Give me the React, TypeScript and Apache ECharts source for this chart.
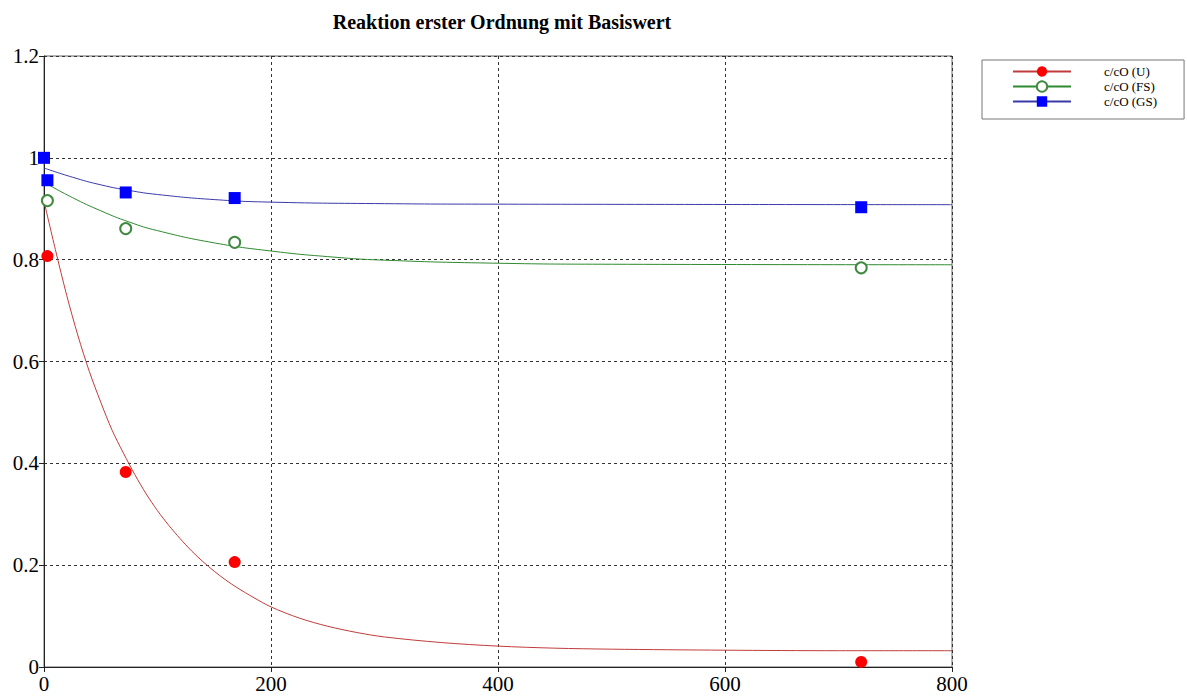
import React, { useEffect, useRef } from "react";
import * as echarts from "echarts";

const titleText = "Reaktion erster Ordnung mit Basiswert";
const seriesNames = ["c/cO (U)", "c/cO (FS)", "c/cO (GS)"];

// measured points [t, c/c0]
const pointsU = [[3, 0.807], [72, 0.383], [168, 0.206], [720, 0.01]];
const pointsFS = [[3, 0.916], [72, 0.861], [168, 0.834], [720, 0.784]];
const pointsGS = [[0, 1.0], [3, 0.956], [72, 0.932], [168, 0.921], [720, 0.903]];

// fitted curves
const curveU = [[0, 0.915], [10, 0.82], [20, 0.73], [30, 0.65], [40, 0.58], [50, 0.52], [60, 0.465], [70, 0.42], [80, 0.378], [90, 0.34], [100, 0.307], [110, 0.278], [120, 0.252], [130, 0.228], [140, 0.207], [150, 0.188], [160, 0.171], [170, 0.156], [185, 0.136], [200, 0.118], [225, 0.096], [250, 0.08], [275, 0.068], [300, 0.059], [350, 0.048], [400, 0.041], [450, 0.037], [500, 0.035], [600, 0.033], [700, 0.032], [800, 0.032]];
const curveFS = [[0, 0.952], [25, 0.922], [50, 0.896], [75, 0.874], [100, 0.857], [150, 0.833], [200, 0.817], [250, 0.806], [300, 0.799], [400, 0.793], [500, 0.791], [800, 0.79]];
const curveGS = [[0, 0.98], [25, 0.962], [50, 0.947], [75, 0.936], [100, 0.928], [150, 0.918], [200, 0.913], [300, 0.91], [400, 0.909], [800, 0.908]];

const xTicks = { min: 0, max: 800, interval: 200 };
const yTicks = { min: 0, max: 1.2, interval: 0.2 };

const serif = "'Liberation Serif', 'Times New Roman', serif";

export default function App() {
  const ref = useRef<HTMLDivElement>(null);
  useEffect(() => {
    if (!ref.current) return;
    const chart = echarts.init(ref.current, null, { renderer: "svg" });
    const colors = {
      U: { mark: "#ff0000", line: "#c03c3c" },
      FS: { mark: "#3f8a3f", line: "#2f8a2f" },
      GS: { mark: "#0000ff", line: "#3a3aa8" },
    };
    chart.setOption({
      animation: false,
      backgroundColor: "#ffffff",
      title: {
        text: titleText,
        left: 497,
        textAlign: "center",
        top: 7,
        textStyle: { fontFamily: serif, fontSize: 20, fontWeight: "bold", color: "#000" },
      },
      legend: {
        orient: "vertical",
        left: 982,
        top: 60,
        padding: [5, 27, 11, 30],
        itemWidth: 58,
        itemHeight: 13,
        itemGap: 2,
        backgroundColor: "#fff",
        borderColor: "#777",
        borderWidth: 1,
        borderRadius: 0,
        data: seriesNames,
        textStyle: { fontFamily: serif, fontSize: 13, color: "#000", padding: [0, 0, 0, 28] },
      },
      grid: {
        left: 44,
        right: 235,
        top: 56,
        bottom: 30,
        show: true,
        borderColor: "#666",
        borderWidth: 1,
        containLabel: false,
      },
      xAxis: {
        type: "value",
        min: xTicks.min,
        max: xTicks.max,
        interval: xTicks.interval,
        axisLine: { show: true, onZero: false, lineStyle: { color: "#222", width: 1 } },
        axisTick: { show: true, length: 5, lineStyle: { color: "#222" } },
        axisLabel: { fontFamily: serif, fontSize: 21, color: "#000", margin: 6 },
        splitLine: { show: true, lineStyle: { color: "#333", type: [3, 3], width: 1 } },
      },
      yAxis: {
        type: "value",
        min: yTicks.min,
        max: yTicks.max,
        interval: yTicks.interval,
        axisLine: { show: true, onZero: false, lineStyle: { color: "#222", width: 1 } },
        axisTick: { show: true, length: 5, lineStyle: { color: "#222" } },
        axisLabel: { fontFamily: serif, fontSize: 21, color: "#000", margin: 5, formatter: (v: number) => String(Math.round(v * 10) / 10) },
        splitLine: { show: true, lineStyle: { color: "#333", type: [3, 3], width: 1 } },
      },
      series: [
        {
          name: seriesNames[0], type: "line", data: curveU, smooth: 0.3, showSymbol: false,
          symbol: "circle", symbolSize: 12, itemStyle: { color: colors.U.mark },
          lineStyle: { color: colors.U.line, width: 1 }, z: 2, silent: true,
        },
        {
          name: seriesNames[1], type: "line", data: curveFS, smooth: true, showSymbol: false,
          symbol: "emptyCircle", symbolSize: 11, itemStyle: { color: colors.FS.mark, borderWidth: 1 },
          lineStyle: { color: colors.FS.line, width: 1 }, z: 2, silent: true,
        },
        {
          name: seriesNames[2], type: "line", data: curveGS, smooth: true, showSymbol: false,
          symbol: "rect", symbolSize: 12, itemStyle: { color: colors.GS.mark },
          lineStyle: { color: colors.GS.line, width: 1 }, z: 2, silent: true,
        },
        {
          name: seriesNames[0], type: "scatter", data: pointsU, symbol: "circle", symbolSize: 12,
          itemStyle: { color: colors.U.mark, opacity: 1 }, z: 5,
        },
        {
          name: seriesNames[1], type: "scatter", data: pointsFS, symbol: "emptyCircle", symbolSize: 11,
          itemStyle: { color: colors.FS.mark, borderWidth: 1, opacity: 1 }, z: 5,
        },
        {
          name: seriesNames[2], type: "scatter", data: pointsGS, symbol: "rect", symbolSize: 12,
          itemStyle: { color: colors.GS.mark, opacity: 1 }, z: 5,
        },
      ],
    });
    return () => chart.dispose();
  }, []);
  return <div ref={ref} style={{ width: 1187, height: 697, position: "absolute", left: 0, top: 0 }} />;
}
